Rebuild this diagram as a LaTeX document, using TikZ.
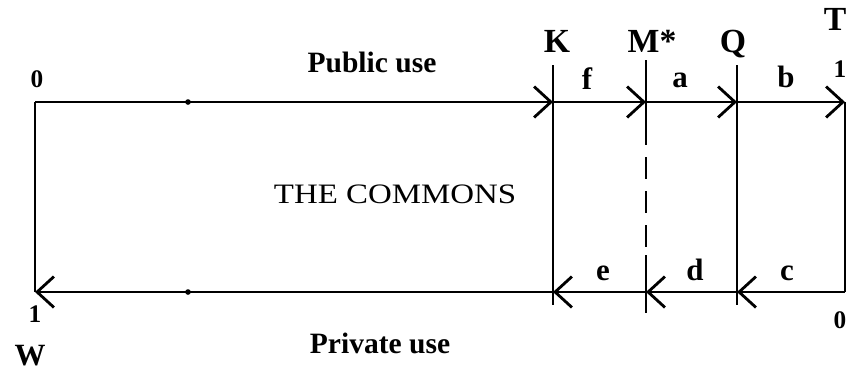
\documentclass[tikz,border=0pt]{standalone}
\usepackage{fontspec}
\setmainfont{Liberation Serif}
\usepackage{tikz}
\usetikzlibrary{arrows.meta}
\usetikzlibrary{%shapes,
positioning%
}
\tikzset{
  ln/.style={line width=1.4pt, black},
  arr/.style={ln, -{Straight Barb[length=12pt, width=22pt, line width=2pt]}},
  dot/.style={circle, fill, minimum size=4pt, inner sep=0pt},
  big/.style={anchor=base, font=\bfseries\fontsize{24}{26}\selectfont},
  mid/.style={anchor=base, font=\bfseries\fontsize{21}{24}\selectfont},
  sml/.style={anchor=base, font=\bfseries\fontsize{22}{24}\selectfont},
  tiny/.style={anchor=base, font=\bfseries\fontsize{18}{20}\selectfont},
}

\begin{document}
\begin{tikzpicture}
\newdimen\xW
\newdimen\xK
\newdimen\xM
\newdimen\xQ
\newdimen\xT
\newdimen\ytop
\newdimen\ybot
\newdimen\yup
\newdimen\ydn
\xW=0.875cm
\xK=13.825cm
\xM=16.15cm
\xQ=18.425cm
\xT=21.125cm
\ytop=6.875cm
\ybot=2.125cm
\yup=7.8cm
\ydn=1.8cm

\useasboundingbox (0, 0) rectangle (21.2cm, 9.425cm);

\coordinate (O) at (\xW, \ytop); % 0, public end
\coordinate (Wone) at (\xW, \ybot); % 1, private end
\coordinate (Ktop) at (\xK, \ytop);
\coordinate (Mtop) at (\xM, \ytop);
\coordinate (Qtop) at (\xQ, \ytop);
\coordinate (Tone) at (\xT, \ytop);
\coordinate (Kbot) at (\xK, \ybot);
\coordinate (Mbot) at (\xM, \ybot);
\coordinate (Qbot) at (\xQ, \ybot);
\coordinate (Tzero) at (\xT, \ybot);
\coordinate (Kup) at (\xK, \yup);
\coordinate (Kdn) at (\xK, \ydn);
\coordinate (Qup) at (\xQ, \yup);
\coordinate (Qdn) at (\xQ, \ydn);
\coordinate (Mup) at (\xM, 7.925cm);
\coordinate (Mdashup) at (\xM, 6.35cm);
\coordinate (Mdashdn) at (\xM, 3.05cm);
\coordinate (Mdn) at (\xM, 1.6cm);

% public use, left to right
\draw[arr] (O) -- (Ktop);
\draw[arr] (Ktop) -- (Mtop);
\draw[arr] (Mtop) -- (Qtop);
\draw[arr] (Qtop) -- (Tone);
% private use, right to left
\draw[arr] (Tzero) -- (Qbot);
\draw[arr] (Qbot) -- (Mbot);
\draw[arr] (Mbot) -- (Kbot);
\draw[arr] (Kbot) -- (Wone);
% sides
\draw[ln] (O) -- (Wone);
\draw[ln] (Tone) -- (Tzero);
% K, M*, Q
\draw[ln] (Kup) -- (Kdn);
\draw[ln] (Qup) -- (Qdn);
\draw[ln] (Mup) -- (Mdashup);
\draw[ln, dash pattern=on 0.55cm off 0.3cm] (Mdashup) -- (Mdashdn);
\draw[ln] (Mdashdn) -- (Mdn);

\node[dot] (dtop) at (4.7cm, \ytop) {};
\node[dot] (dbot) at (4.7cm, \ybot) {};

\node[mid] (pub) at (9.3cm, 7.625cm) {Public use};
\node[mid] (priv) at (9.5cm, 0.6cm) {Private use};
\node[anchor=base, font=\fontsize{20}{22}\selectfont, xscale=1.17] (comm) at (9.875cm, 4.35cm) {THE COMMONS};

\node[big] (K) at (13.925cm, 8.125cm) {K};
\node[big] (M) at (16.3cm, 8.125cm) {M*};
\node[big] (Q) at (18.325cm, 8.125cm) {Q};
\node[big, anchor=base east, inner xsep=1pt] (T) at (21.2cm, 8.675cm) {T};
\node[tiny, anchor=base east, inner xsep=1pt] (one) at (21.2cm, 7.5cm) {1};
\node[tiny, anchor=base east, inner xsep=1pt] (zero) at (21.2cm, 1.225cm) {0};

\node[sml] (f) at (14.675cm, 7.2cm) {f};
\node[sml] (a) at (17.0cm, 7.25cm) {a};
\node[sml] (b) at (19.65cm, 7.25cm) {b};
\node[sml] (e) at (15.075cm, 2.425cm) {e};
\node[sml] (d) at (17.375cm, 2.425cm) {d};
\node[sml] (c) at (19.675cm, 2.425cm) {c};

\node[tiny] (zl) at (0.925cm, 7.25cm) {0};
\node[tiny] (ol) at (0.875cm, 1.375cm) {1};
\node[anchor=base, font=\bfseries\fontsize{22}{24}\selectfont] (W) at (0.75cm, 0.3cm) {W};
\end{tikzpicture}
\end{document}
